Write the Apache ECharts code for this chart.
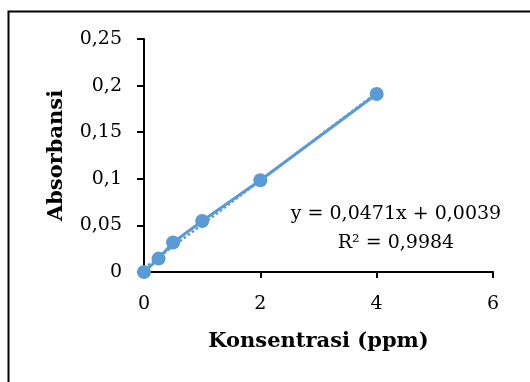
<!DOCTYPE html>
<html>
<head>
<meta charset="utf-8">
<script src="https://cdn.jsdelivr.net/npm/echarts@6/dist/echarts.min.js"></script>
<style>
  html, body { margin: 0; padding: 0; background: #fff; }
  #chart { width: 530px; height: 382px; }
</style>
</head>
<body>
<div id="chart"></div>
<script>
// kalibrasi: konsentrasi (ppm) vs absorbansi
const konsentrasi = [0, 0.25, 0.5, 1, 2, 4];
const absorbansi = [0, 0.0144, 0.0316, 0.0548, 0.0985, 0.191];
// garis tren linear (dari persamaan y = 0,0471x + 0,0039)
const trendX = [0, 4];
const trendY = [0.0039, 0.1923];
const eqLines = ['y = 0,0471x + 0,0039', 'R² = 0,9984'];

const BLUE = '#5b9bd5';
const FONT = 'DejaVu Serif';
const comma = (v) => String(v).replace('.', ',');

const chart = echarts.init(document.getElementById('chart'), null, { renderer: 'canvas' });

chart.setOption({
  animation: false,
  grid: { left: 144, top: 39, right: 37, bottom: 110 },
  graphic: [
    {
      type: 'rect',
      left: 6, top: 9,
      shape: { width: 540, height: 400 },
      style: { fill: 'none', stroke: '#000', lineWidth: 2 },
      silent: true,
    },
    {
      type: 'text',
      x: 396, y: 229,
      style: {
        text: eqLines.join('\n'),
        font: '19px "' + FONT + '"',
        fill: '#000',
        align: 'center',
        verticalAlign: 'middle',
        lineHeight: 29,
      },
      silent: true,
    },
  ],
  xAxis: {
    type: 'value',
    min: 0, max: 6, interval: 2,
    name: 'Konsentrasi (ppm)',
    nameLocation: 'middle',
    nameGap: 59,
    nameTextStyle: { fontFamily: FONT, fontWeight: 'bold', fontSize: 21, color: '#000' },
    axisLine: { lineStyle: { color: '#000', width: 2 } },
    axisTick: { show: true, inside: false, length: 6, lineStyle: { color: '#000', width: 2 } },
    axisLabel: { margin: 23, color: '#000', fontFamily: FONT, fontSize: 19, formatter: comma },
    splitLine: { show: false },
  },
  yAxis: {
    type: 'value',
    min: 0, max: 0.25, interval: 0.05,
    name: 'Absorbansi',
    nameLocation: 'middle',
    nameGap: 77,
    nameRotate: 90,
    nameTextStyle: { fontFamily: FONT, fontWeight: 'bold', fontSize: 21, color: '#000' },
    axisLine: { show: true, lineStyle: { color: '#000', width: 2 } },
    axisTick: { show: true, inside: false, length: 7, lineStyle: { color: '#000', width: 2 } },
    axisLabel: { margin: 22, color: '#000', fontFamily: FONT, fontSize: 19, formatter: comma },
    splitLine: { show: false },
  },
  series: [
    {
      name: 'trend',
      type: 'line',
      data: trendX.map((x, i) => [x, trendY[i]]),
      symbol: 'none',
      lineStyle: { color: BLUE, width: 2.5, type: 'dotted' },
      z: 1,
      silent: true,
    },
    {
      name: 'Absorbansi',
      type: 'line',
      data: konsentrasi.map((x, i) => [x, absorbansi[i]]),
      symbol: 'circle',
      symbolSize: 14,
      clip: false,
      itemStyle: { color: BLUE },
      lineStyle: { color: BLUE, width: 3 },
      z: 2,
    },
  ],
});
</script>
</body>
</html>
